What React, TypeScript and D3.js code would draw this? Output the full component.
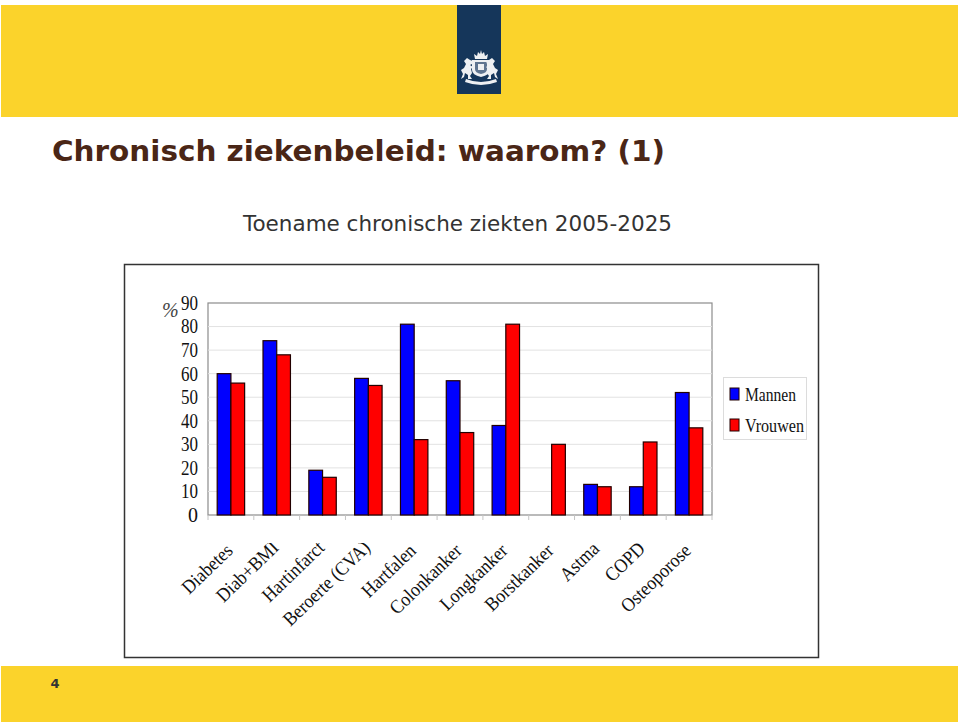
import React, { useEffect, useRef } from "react";
import * as d3 from "d3";

const categories = ["Diabetes", "Diab+BMI", "Hartinfarct", "Beroerte (CVA)", "Hartfalen", "Colonkanker", "Longkanker", "Borstkanker", "Astma", "COPD", "Osteoporose"];
const mannen = [60, 74, 19, 58, 81, 57, 38, 0, 13, 12, 52];
const vrouwen = [56, 68, 16, 55, 32, 35, 81, 30, 12, 31, 37];
const yTicks = [0, 10, 20, 30, 40, 50, 60, 70, 80, 90];
const seriesNames = ["Mannen", "Vrouwen"];
const seriesColors = ["#0000ff", "#ff0000"];

const serif = "'Liberation Serif', serif";
const sans = "'DejaVu Sans', sans-serif";

const App = () => {
    const svgRef = useRef<SVGSVGElement>(null);

    useEffect(() => {
        const svg = d3.select(svgRef.current);
        svg.selectAll("*").remove();

        const plot = { left: 208, right: 712, top: 303, bottom: 515 };

        // slide header and footer
        svg.append("rect").attr("x", 1).attr("y", 5).attr("width", 957).attr("height", 112).attr("fill", "#fbd32b");
        svg.append("rect").attr("x", 1).attr("y", 666).attr("width", 957).attr("height", 56).attr("fill", "#fbd32b");
        svg.append("rect").attr("x", 457).attr("y", 5).attr("width", 44).attr("height", 89).attr("fill", "#15365a");

        // emblem, roughly: crown, shield, two lions, ribbon
        const emblem = svg.append("g").attr("fill", "#eef0f2");
        emblem.append("path").attr("d", "M475 59 L474 54 L477 56 L478 52 L480 54 L481 50 L482 54 L484 52 L485 56 L488 54 L487 59 Z");
        emblem.append("path").attr("d", "M472 60 H490 V70 Q490 75 481 77 Q472 75 472 70 Z");
        emblem.append("path").attr("d", "M475 62 H487 V69 Q487 73 481 74 Q475 73 475 69 Z").attr("fill", "#5f7590");
        emblem.append("path").attr("d", "M478 64 H484 V70 H478 Z");
        const lion = "M0 0 L3 -2 L5 -6 L3 -9 L6 -12 L9 -10 L12 -9 L11 -6 L9 -5 L12 -3 L10 -1 L11 3 L9 6 L11 9 L7 9 L7 5 L4 3 L3 7 L0 9 L2 4 Z";
        emblem.append("path").attr("d", lion).attr("transform", "translate(461,70)");
        emblem.append("path").attr("d", lion).attr("transform", "translate(498,70) scale(-1,1)");
        emblem.append("path").attr("d", "M466 79 Q481 85 496 79 L497 82 Q481 88 465 82 Z");

        svg.append("text").attr("x", 52).attr("y", 161).attr("font-family", sans).attr("font-size", 29).attr("font-weight", "bold")
            .attr("fill", "#4a2616").attr("textLength", 613).attr("lengthAdjust", "spacingAndGlyphs").text("Chronisch ziekenbeleid: waarom? (1)");
        svg.append("text").attr("x", 243).attr("y", 231).attr("font-family", sans).attr("font-size", 21).attr("fill", "#333")
            .attr("textLength", 429).attr("lengthAdjust", "spacingAndGlyphs").text("Toename chronische ziekten 2005-2025");
        svg.append("text").attr("x", 55).attr("y", 688).attr("text-anchor", "middle").attr("font-family", sans).attr("font-size", 13)
            .attr("font-weight", "bold").attr("fill", "#333").text("4");

        // chart frame
        svg.append("rect").attr("x", 124.5).attr("y", 264.5).attr("width", 694).attr("height", 393)
            .attr("fill", "#fff").attr("stroke", "#333").attr("stroke-width", 1.5);

        const x = d3.scaleBand().domain(categories).range([plot.left, plot.right]);
        const xInner = d3.scaleBand().domain(seriesNames).range([0, x.bandwidth()]).paddingInner(0).paddingOuter(0.67);
        const y = d3.scaleLinear().domain([0, 90]).range([plot.bottom, plot.top]);

        svg.append("rect").attr("x", plot.left).attr("y", plot.top)
            .attr("width", plot.right - plot.left).attr("height", plot.bottom - plot.top)
            .attr("fill", "#fff").attr("stroke", "#8c8c8c").attr("stroke-width", 1.2);

        svg.append("g").selectAll("line").data(yTicks.filter(d => d > 0 && d < 90)).enter().append("line")
            .attr("x1", plot.left).attr("x2", plot.right)
            .attr("y1", d => y(d)).attr("y2", d => y(d))
            .attr("stroke", "#e2e2e2").attr("stroke-width", 1);

        const yAxis = svg.append("g")
            .attr("transform", `translate(${plot.left},0)`)
            .call(d3.axisLeft(y).tickValues(yTicks).tickSize(0).tickPadding(10));
        yAxis.select(".domain").remove();
        yAxis.selectAll("text").attr("font-family", serif).attr("font-size", 20).attr("fill", "#111");
        // the digits are tall and narrow in the picture
        yAxis.selectAll("text").filter(d => (d as number) > 0)
            .attr("textLength", 17).attr("lengthAdjust", "spacingAndGlyphs");

        svg.append("text").attr("x", 162).attr("y", 317).attr("font-family", serif).attr("font-size", 20)
            .attr("font-style", "italic").attr("fill", "#444").text("%");

        // tick marks under the axis, between the categories
        const xTicks = svg.append("g").attr("stroke", "#c4c4c4");
        categories.concat("").forEach((c, i) => {
            const tx = plot.left + i * x.step();
            xTicks.append("line").attr("x1", tx).attr("x2", tx).attr("y1", plot.bottom).attr("y2", plot.bottom + 5);
        });

        // bars
        [mannen, vrouwen].forEach((values, s) => {
            const rows = categories.map((c, i) => ({ c, v: values[i] })).filter(d => d.v > 0);
            svg.append("g").selectAll("rect").data(rows).enter().append("rect")
                .attr("x", d => (x(d.c) as number) + (xInner(seriesNames[s]) as number))
                .attr("width", xInner.bandwidth())
                .attr("y", d => y(d.v))
                .attr("height", d => plot.bottom - y(d.v))
                .attr("fill", seriesColors[s])
                .attr("stroke", "#200")
                .attr("stroke-width", 1.2);
        });

        // rotated category labels; three of them run into the clip at the top, as in the picture
        const labelShift = (d: string) => {
            if (d === "Diab+BMI" || d === "Hartinfarct" || d === "Beroerte (CVA)") return -3;
            if (d === "Astma" || d === "COPD") return -2;
            return 0;
        };
        svg.append("clipPath").attr("id", "labelClip").append("rect")
            .attr("x", 150).attr("y", 543).attr("width", 600).attr("height", 100);
        svg.append("g").attr("clip-path", "url(#labelClip)")
            .selectAll("text").data(categories).enter().append("text")
            .attr("transform", d => `translate(${(x(d) as number) + x.bandwidth() / 2 + 3},${plot.bottom + 37 + labelShift(d)}) rotate(-44) scale(0.91,1)`)
            .attr("text-anchor", "end")
            .attr("font-family", serif)
            .attr("font-size", 19.5)
            .attr("fill", "#111")
            .text(d => d);

        // legend
        svg.append("rect").attr("x", 723.5).attr("y", 377.5).attr("width", 83).attr("height", 62)
            .attr("fill", "#fff").attr("stroke", "#dcdcdc");
        seriesNames.forEach((name, i) => {
            const ly = 388 + i * 31;
            svg.append("rect").attr("x", 730).attr("y", ly).attr("width", 9).attr("height", 12)
                .attr("fill", seriesColors[i]).attr("stroke", "#200");
            svg.append("text").attr("x", 745).attr("y", ly + 13).attr("font-family", serif).attr("font-size", 19)
                .attr("fill", "#111").attr("textLength", i === 0 ? 51 : 59).attr("lengthAdjust", "spacingAndGlyphs").text(name);
        });
    }, []);

    return <svg ref={svgRef} width={960} height={725} style={{ position: "absolute", left: 0, top: 0 }}></svg>;
};

export default App;
